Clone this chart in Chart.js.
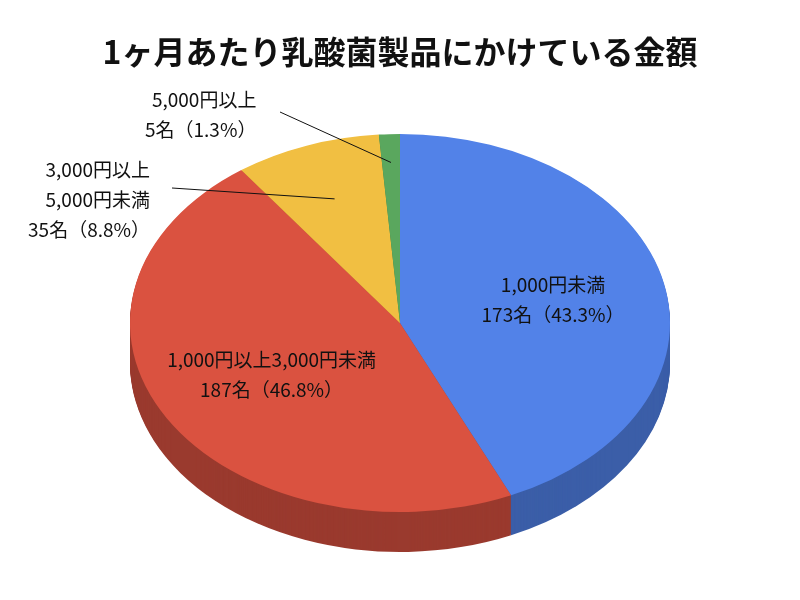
<!DOCTYPE html>
<html><head><meta charset="utf-8">
<script src="https://cdn.jsdelivr.net/npm/chart.js@4/dist/chart.umd.min.js"></script>
<style>body{margin:0;background:#fff}#w{width:800px;height:600px}</style>
</head><body><div id="w"><canvas id="c"></canvas></div>
<script>
const titleText = "1ヶ月あたり乳酸菌製品にかけている金額";
const categories = ["1,000円未満","1,000円以上3,000円未満","3,000円以上\n5,000円未満","5,000円以上"];
const counts = [173,187,35,5];
const percents = ["43.3%","46.8%","8.8%","1.3%"];
const colors = ["#5282e8","#da5240","#f1bf42","#5aa75e"];
const sideColors = ["#3b5ea8","#9a3a2e","#b08a2c","#3f7a42"];
const SY = 0.70, DEPTH = 40;
const FONT = '"Noto Sans CJK JP", sans-serif';

const pie3d = {
  id:'pie3d',
  beforeDatasetsDraw(chart){
    const ctx = chart.ctx, arcs = chart.getDatasetMeta(0).data;
    const cx = arcs[0].x, cy = arcs[0].y;
    ctx.save();
    for (let d = DEPTH; d >= 1; d--) {
      arcs.forEach((a,i)=>{
        ctx.save();
        ctx.translate(cx, cy + d); ctx.scale(1, SY);
        ctx.beginPath(); ctx.moveTo(0,0);
        ctx.arc(0,0,a.outerRadius,a.startAngle,a.endAngle);
        ctx.closePath(); ctx.fillStyle = sideColors[i]; ctx.fill();
        ctx.restore();
      });
    }
    ctx.restore();
    ctx.save();
    ctx.translate(cx, cy); ctx.scale(1, SY); ctx.translate(-cx, -cy);
  },
  afterDatasetsDraw(chart){
    const ctx = chart.ctx; ctx.restore();
    const arcs = chart.getDatasetMeta(0).data;
    const cx = arcs[0].x, cy = arcs[0].y;
    const pt = (a,f)=>{const m=(a.startAngle+a.endAngle)/2;return [cx+a.outerRadius*f*Math.cos(m), cy+a.outerRadius*f*SY*Math.sin(m)];};
    ctx.save();
    ctx.fillStyle = '#111'; ctx.font = '19px ' + FONT; ctx.textBaseline = 'middle';
    const lines = i => [...categories[i].split('\n'), counts[i] + '名（' + percents[i] + '）'];
    const LH = 30;
    [[0,0.58],[1,0.55]].forEach(([i,f])=>{
      const [x,y]=pt(arcs[i],f); ctx.textAlign='center';
      const L=lines(i); L.forEach((t,k)=>ctx.fillText(t,x,y+(k-(L.length-1)/2)*LH));
    });
    const outs = [[2,0.7,[150,200],[172,188]],[3,0.85,[145,115],[280,112]]];
    outs.forEach(([i,f,tp,lp])=>{
      const [x,y]=pt(arcs[i],f);
      ctx.strokeStyle='#111'; ctx.lineWidth=1;
      ctx.beginPath(); ctx.moveTo(lp[0],lp[1]); ctx.lineTo(x,y); ctx.stroke();
      ctx.textAlign='right';
      const L=lines(i); const w=Math.max(...L.map(t=>ctx.measureText(t).width));
      L.forEach((t,k)=>ctx.fillText(t,tp[0]+(i==3?w:0),tp[1]+(k-(L.length-1)/2)*LH));
    });
    ctx.font = 'bold 32px ' + FONT; ctx.textAlign='center';
    ctx.fillText(titleText, 400, 52);
    ctx.restore();
  }
};

new Chart(document.getElementById('c'), {
  type:'pie',
  data:{labels:categories, datasets:[{data:counts, backgroundColor:colors, borderWidth:0, radius:270}]},
  options:{responsive:true, maintainAspectRatio:false, animation:false,
    layout:{padding:{top:86,bottom:40}},
    plugins:{legend:{display:false}, tooltip:{enabled:false}}},
  plugins:[pie3d]
});
</script></body></html>
